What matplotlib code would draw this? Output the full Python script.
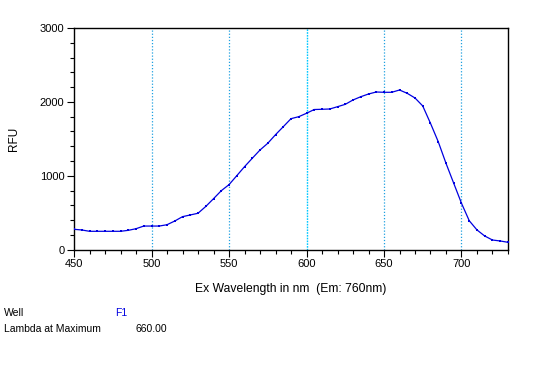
import matplotlib
matplotlib.use("Agg")
import matplotlib.pyplot as plt
from matplotlib.ticker import MultipleLocator

plt.rcParams['font.family'] = ['Liberation Sans', 'DejaVu Sans']

wavelength = [450, 455, 460, 465, 470, 475, 480, 485, 490, 495, 500, 505, 510, 515,
              520, 525, 530, 535, 540, 545, 550, 555, 560, 565, 570, 575, 580, 585,
              590, 595, 600, 605, 610, 615, 620, 625, 630, 635, 640, 645, 650, 655,
              660, 665, 670, 675, 680, 685, 690, 695, 700, 705, 710, 715, 720, 725, 730]
rfu = [276, 267, 249, 249, 249, 249, 249, 262, 284, 320, 320, 320, 338, 388,
       447, 470, 493, 585, 690, 798, 880, 1001, 1123, 1237, 1349, 1440, 1556, 1664,
       1773, 1800, 1846, 1897, 1900, 1904, 1935, 1967, 2026, 2070, 2107, 2134, 2130, 2130,
       2161, 2116, 2053, 1945, 1710, 1461, 1169, 898, 628, 392, 267, 185, 131, 118, 100]
grid_x = [500, 550, 600, 650, 700]
well = "F1"
lambda_max = "660.00"

fig = plt.figure(figsize=(5.46, 3.69), dpi=100)
ax = fig.add_axes([74/546, 1-249.7/369, 434/546, (249.7-28)/369])

for gx in grid_x:
    if gx == 600:
        ax.axvline(gx, color='#00c8ff', linestyle=(0, (1.2, 0.8)), linewidth=1.0, zorder=1)
    else:
        ax.axvline(gx, color='#1fa0e0', linestyle=(0, (1, 1.5)), linewidth=0.9, zorder=1)

ax.plot(wavelength, rfu, color='#0000e0', linewidth=0.9, marker='s', markersize=1.6,
        markeredgewidth=0, zorder=3)

ax.set_xlim(450, 730)
ax.set_ylim(0, 3000)
ax.xaxis.set_major_locator(MultipleLocator(50))
ax.xaxis.set_minor_locator(MultipleLocator(10))
ax.yaxis.set_major_locator(MultipleLocator(1000))
ax.yaxis.set_minor_locator(MultipleLocator(200))
ax.tick_params(axis='both', which='major', direction='out', length=5, width=0.8,
               labelsize=8, pad=2)
ax.tick_params(axis='both', which='minor', direction='out', length=3, width=0.8)
for s in ax.spines.values():
    s.set_linewidth(1.0)
    s.set_color('black')

ax.set_xlabel("Ex Wavelength in nm  (Em: 760nm)", fontsize=8.7, labelpad=10)
ax.set_ylabel("RFU", fontsize=8.5, labelpad=14)

fig.text(4/546, 1-313/369, "Well", fontsize=7.5, va='center', ha='left')
fig.text(115/546, 1-313/369, well, fontsize=7.5, va='center', ha='left', color='#0000e0')
fig.text(4/546, 1-329/369, "Lambda at Maximum", fontsize=7.5, va='center', ha='left')
fig.text(136/546, 1-329/369, lambda_max, fontsize=7.5, va='center', ha='left')

fig.savefig("out.png", dpi=100)
